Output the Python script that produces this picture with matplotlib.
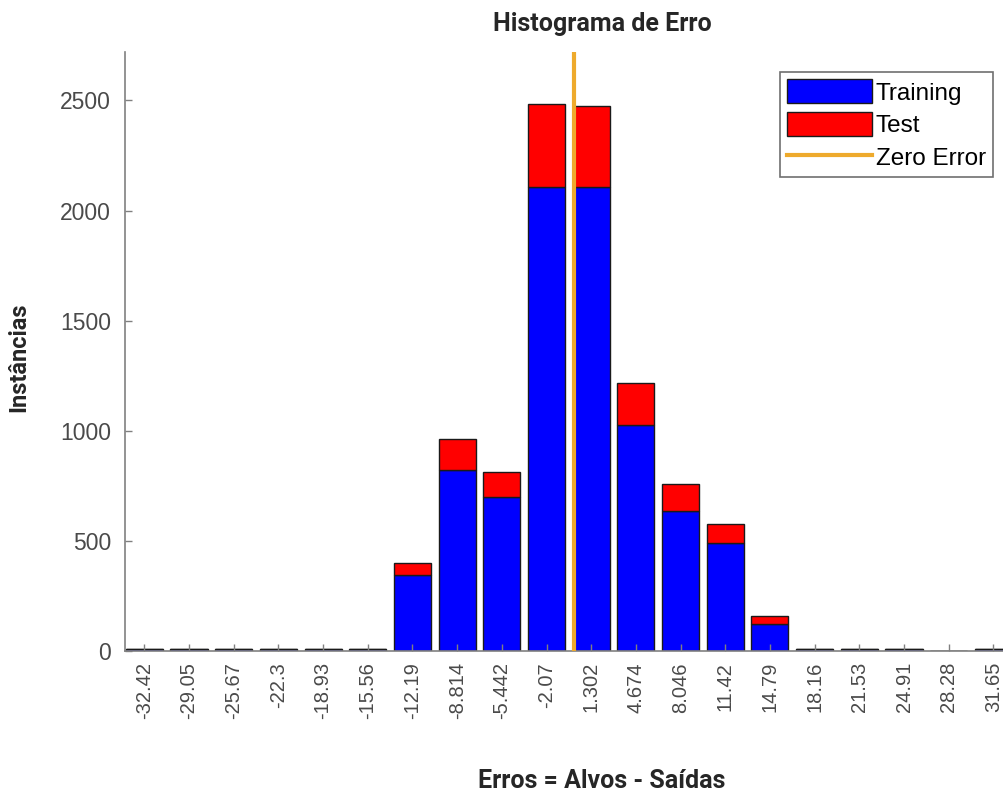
import numpy as np
import matplotlib
matplotlib.use('Agg')
from matplotlib import pyplot as plt
from matplotlib.patches import Patch
from matplotlib.lines import Line2D

# Bin centres of the error histogram and their tick labels
centers = [-32.42, -29.05, -25.67, -22.3, -18.93, -15.56, -12.19, -8.814, -5.442, -2.07,
           1.302, 4.674, 8.046, 11.42, 14.79, 18.16, 21.53, 24.91, 28.28, 31.65]
tick_labels = ['-32.42', '-29.05', '-25.67', '-22.3', '-18.93', '-15.56', '-12.19', '-8.814',
               '-5.442', '-2.07', '1.302', '4.674', '8.046', '11.42', '14.79', '18.16',
               '21.53', '24.91', '28.28', '31.65']

# Instance counts per bin
training = [8, 8, 8, 8, 8, 8, 345, 823, 700, 2109, 2105, 1027, 636, 491, 123, 8, 8, 8, 0, 8]
test = [2, 2, 2, 2, 2, 2, 55, 141, 114, 373, 368, 191, 123, 86, 36, 2, 2, 2, 0, 2]

bin_width = 3.372
zero_error = 0.0

fig = plt.figure(figsize=(10.04, 7.96), dpi=100)
ax = fig.add_axes([0.1245, 0.1822, 0.950, 0.7525])

w = bin_width * 0.83
ax.bar(centers, training, width=w, color='#0000ff', edgecolor='#1a1a1a', linewidth=1.0)
ax.bar(centers, test, width=w, bottom=training, color='#ff0000', edgecolor='#1a1a1a', linewidth=1.0)
ax.axvline(zero_error, color='#eeaa2c', linewidth=3, zorder=3)

ax.set_xlim(-33.88, 38.1)
ax.set_ylim(0, 2720)
ax.set_xticks(centers)
ax.set_xticklabels(tick_labels, rotation=90, fontsize=14.5, family='Liberation Sans', color='#4a4a4a')
ax.set_yticks([0, 500, 1000, 1500, 2000, 2500])
ax.set_yticklabels(['0', '500', '1000', '1500', '2000', '2500'], fontsize=16.5,
                   family='Liberation Sans', color='#4a4a4a')
ax.tick_params(direction='in', length=5, color='#808080', width=1)
ax.tick_params(axis='x', pad=8)
ax.tick_params(axis='y', pad=10)

for side in ['top', 'right']:
    ax.spines[side].set_visible(False)
for side in ['left', 'bottom']:
    ax.spines[side].set_color('#808080')
    ax.spines[side].set_linewidth(1.2)

ax.set_title('Histograma de Erro', fontsize=18, fontweight='bold', family='Roboto',
             color='#262626', pad=15)
ax.set_xlabel('Erros = Alvos - Saídas', fontsize=18, fontweight='bold', family='Roboto',
              color='#262626', labelpad=36)
ax.set_ylabel('Instâncias', fontsize=17, fontweight='bold', family='Roboto', color='#262626')
ax.yaxis.set_label_coords(-0.099, 0.49)

handles = [Patch(facecolor='#0000ff', edgecolor='#1a1a1a'),
           Patch(facecolor='#ff0000', edgecolor='#1a1a1a'),
           Line2D([0], [0], color='#eeaa2c', linewidth=3)]
leg = fig.legend(handles, ['Training', 'Test', 'Zero Error'], loc='upper right',
                 bbox_to_anchor=(993 / 1004, 1 - 72 / 796),
                 prop={'family': 'Liberation Sans', 'size': 17.5},
                 handlelength=3.5, handleheight=1.15, handletextpad=0.15,
                 borderpad=0.3, labelspacing=0.3, fancybox=False, framealpha=1,
                 borderaxespad=0)
leg.get_frame().set_edgecolor('#707070')
leg.get_frame().set_linewidth(1.2)

fig.savefig('out.png', dpi=100)
